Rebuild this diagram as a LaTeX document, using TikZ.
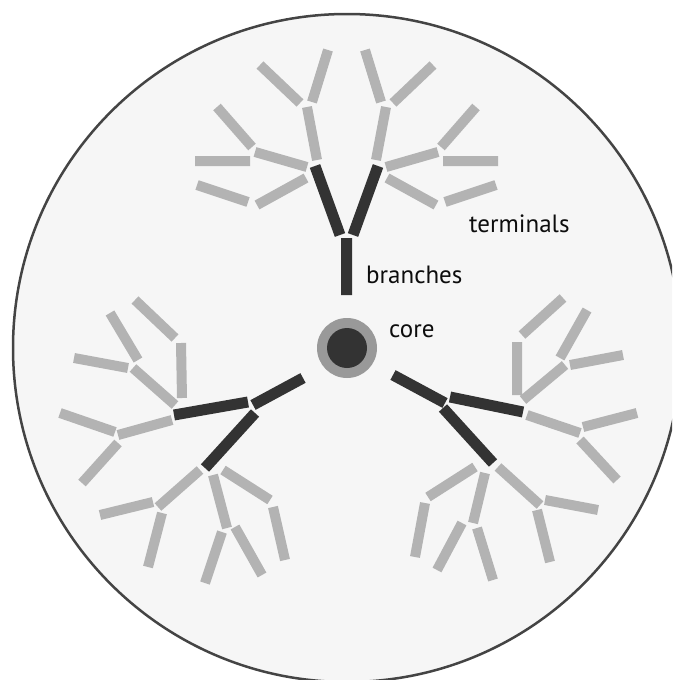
\documentclass[tikz,border=0pt]{standalone}
\usepackage{fontspec}
\setmainfont{PT Sans}
\definecolor{cellfill}{HTML}{F6F6F6}
\definecolor{cellline}{HTML}{444444}
\definecolor{termgray}{HTML}{B3B3B3}
\definecolor{branchdark}{HTML}{333333}
\definecolor{ringgray}{HTML}{999999}
\tikzset{
  grayseg/.style={draw=termgray, line width=10pt},
  darkseg/.style={draw=branchdark, line width=11pt},
  lbl/.style={anchor=base west, inner sep=0pt, font=\fontsize{25}{29}\selectfont, text=black!95}
}
\begin{document}
\begin{tikzpicture}[x=1pt, y=-1pt]
\useasboundingbox (0,0) rectangle (672,680);
\begin{scope}
\clip (0,0) rectangle (672,680);
% cell body
\draw[cellline, fill=cellfill, line width=2.5pt] (347,348) circle (334);
\end{scope}

% upper dendrite
\draw[darkseg] (346.5,238) -- (346.5,295)
               (340,235) -- (315,166)
               (353,235) -- (378,166);
\draw[grayseg] (317,160) -- (307,107)
               (307,167) -- (255,152)
               (306,178) -- (257,205)
               (312,102) -- (328,50)
               (300,103) -- (260,65)
               (252,147) -- (217,107)
               (250,161) -- (195,161)
               (248,202) -- (197,185)
               (376,160) -- (386,107)
               (386,167) -- (438,152)
               (387,178) -- (436,205)
               (381,102) -- (365,50)
               (393,103) -- (433,65)
               (441,147) -- (476,107)
               (443,161) -- (498,161)
               (445,202) -- (496,185);

% left dendrite
\draw[darkseg] (303,378) -- (253,405)
               (248,402) -- (174,415)
               (255,413) -- (205,468);
\draw[grayseg] (175,405) -- (133,368)
               (172,420) -- (118,435)
               (138,360) -- (110,313)
               (128,368) -- (74,358)
               (181,343) -- (182,398)
               (175,338) -- (135,300)
               (115,432) -- (60,413)
               (118,443) -- (82,483)
               (200,470) -- (158,507)
               (213,475) -- (227,528)
               (223,470) -- (270,500)
               (153,502) -- (100,515)
               (162,513) -- (148,567)
               (222,532) -- (205,583)
               (235,527) -- (262,575)
               (273,507) -- (285,560);

% right dendrite
\draw[darkseg] (393,375) -- (445,403)
               (450,397) -- (523,412)
               (443,408) -- (493,463);
\draw[grayseg] (523,400) -- (565,365)
               (517,395) -- (517,342)
               (527,415) -- (580,433)
               (560,358) -- (587,310)
               (570,365) -- (623,355)
               (522,335) -- (563,298)
               (583,427) -- (637,413)
               (580,440) -- (617,480)
               (475,467) -- (428,497)
               (485,473) -- (473,523)
               (498,467) -- (540,505)
               (425,503) -- (415,557)
               (462,523) -- (437,570)
               (477,528) -- (493,580)
               (545,500) -- (598,510)
               (537,510) -- (550,562);

% core
\fill[ringgray] (347,348) circle (30);
\fill[branchdark] (347,348) circle (20);

% labels
\node[lbl] (terminals) at (469,232) {terminals};
\node[lbl] (branches) at (366,283) {branches};
\node[lbl] (core) at (389,337) {core};
\end{tikzpicture}
\end{document}
